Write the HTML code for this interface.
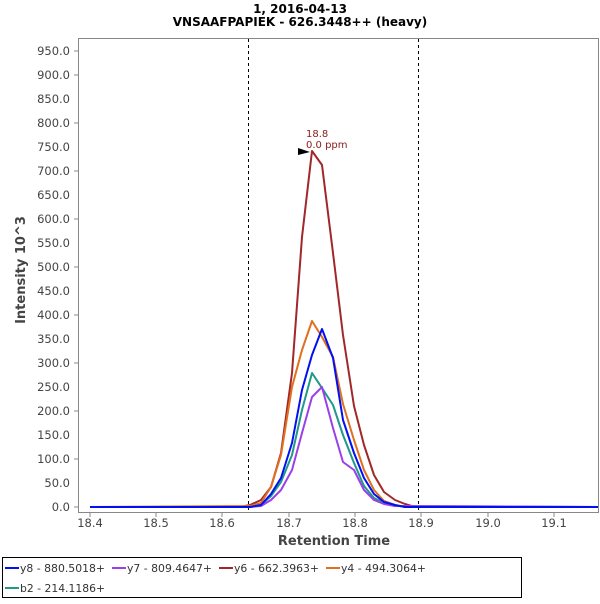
<!DOCTYPE html><html><head><style>body{margin:0;background:#fff;font-family:"DejaVu Sans","Liberation Sans",sans-serif}</style></head><body>
<svg width="600" height="600" xmlns="http://www.w3.org/2000/svg" font-family="DejaVu Sans, Liberation Sans, sans-serif">
<text x="300" y="13" font-size="12" font-weight="bold" text-anchor="middle" fill="#000">1, 2016-04-13</text>
<text x="300" y="26" font-size="12" font-weight="bold" text-anchor="middle" fill="#000">VNSAAFPAPIEK - 626.3448++ (heavy)</text>
<rect x="78.5" y="38.5" width="520" height="474" fill="#fff" stroke="#888"/>
<g stroke="#888">
<line x1="74" x2="78" y1="507" y2="507"/><line x1="74" x2="78" y1="459" y2="459"/><line x1="74" x2="78" y1="411" y2="411"/><line x1="74" x2="78" y1="363" y2="363"/><line x1="74" x2="78" y1="315" y2="315"/><line x1="74" x2="78" y1="267" y2="267"/><line x1="74" x2="78" y1="219" y2="219"/><line x1="74" x2="78" y1="171" y2="171"/><line x1="74" x2="78" y1="123" y2="123"/><line x1="74" x2="78" y1="75" y2="75"/><line x1="74" x2="78" y1="51" y2="51"/>
<line x1="90" x2="90" y1="513" y2="517"/><line x1="156" x2="156" y1="513" y2="517"/><line x1="222" x2="222" y1="513" y2="517"/><line x1="289" x2="289" y1="513" y2="517"/><line x1="355" x2="355" y1="513" y2="517"/><line x1="421" x2="421" y1="513" y2="517"/><line x1="488" x2="488" y1="513" y2="517"/><line x1="554" x2="554" y1="513" y2="517"/>
</g>
<g font-size="11.5" fill="#444" text-anchor="end">
<text x="70" y="55">950.0</text><text x="70" y="79">900.0</text><text x="70" y="103">850.0</text><text x="70" y="127">800.0</text><text x="70" y="151">750.0</text><text x="70" y="175">700.0</text><text x="70" y="199">650.0</text><text x="70" y="223">600.0</text><text x="70" y="247">550.0</text><text x="70" y="271">500.0</text><text x="70" y="295">450.0</text><text x="70" y="319">400.0</text><text x="70" y="343">350.0</text><text x="70" y="367">300.0</text><text x="70" y="391">250.0</text><text x="70" y="415">200.0</text><text x="70" y="439">150.0</text><text x="70" y="463">100.0</text><text x="70" y="487">50.0</text><text x="70" y="511">0.0</text>
</g>
<g font-size="11.5" fill="#444" text-anchor="middle">
<text x="90" y="527">18.4</text><text x="156" y="527">18.5</text><text x="222" y="527">18.6</text><text x="289" y="527">18.7</text><text x="355" y="527">18.8</text><text x="421" y="527">18.9</text><text x="488" y="527">19.0</text><text x="554" y="527">19.1</text>
</g>
<text x="334" y="545" font-size="13" font-weight="bold" fill="#444" text-anchor="middle">Retention Time</text>
<text transform="translate(25,270) rotate(-90)" font-size="13" font-weight="bold" fill="#444" text-anchor="middle">Intensity 10^3</text>
<line x1="248.5" x2="248.5" y1="39" y2="512" stroke="#000" stroke-dasharray="3,3"/>
<line x1="418.5" x2="418.5" y1="39" y2="512" stroke="#000" stroke-dasharray="3,3"/>
<g fill="none" stroke-width="2" stroke-linejoin="round">
<polyline stroke="#a02828" points="90,507 240,507 250,505 261,500 271,487 281,453 292,373 302,237 312,151 322,165 333,253 343,335 354,406 364,445 374,475 384,492 395,500 405,504 415,507 598,507"/>
<polyline stroke="#e07020" points="90,507 250,506 261,503 271,487 281,455 292,387 302,350 312,321 322,337 333,357 343,404 354,440 364,470 374,490 384,501 395,505 405,507 598,507"/>
<polyline stroke="#20988a" points="90,507 250,507 261,505 271,496 281,482 292,455 302,410 312,373 322,388 333,405 343,435 354,463 364,486 374,498 384,503 395,506 598,507"/>
<polyline stroke="#9a40e8" points="90,507 250,507 261,506 271,500 281,490 292,470 302,433 312,397 322,387 333,428 343,462 354,470 364,490 374,500 384,504 395,506 598,507"/>
<polyline stroke="#0010f0" points="90,507 250,507 261,505 271,494 281,478 292,443 302,390 312,355 322,329 333,358 343,420 354,453 364,478 374,494 384,502 395,505 405,507 598,507"/>
</g>
<polygon points="298,148 310,152 298,155" fill="#000"/>
<text x="306" y="137" font-size="10" fill="#8b1a1a">18.8</text>
<text x="306" y="148" font-size="10" fill="#8b1a1a">0.0 ppm</text>
<rect x="2.5" y="557.5" width="519" height="40" fill="none" stroke="#000"/>
<g font-size="11" fill="#333">
<line x1="5" x2="19" y1="568" y2="568" stroke="#0010f0" stroke-width="2"/><text x="20" y="572" textLength="85" lengthAdjust="spacingAndGlyphs">y8 - 880.5018+</text>
<line x1="112" x2="126" y1="568" y2="568" stroke="#9a40e8" stroke-width="2"/><text x="127" y="572" textLength="85" lengthAdjust="spacingAndGlyphs">y7 - 809.4647+</text>
<line x1="219" x2="233" y1="568" y2="568" stroke="#a02828" stroke-width="2"/><text x="234" y="572" textLength="85" lengthAdjust="spacingAndGlyphs">y6 - 662.3963+</text>
<line x1="326" x2="340" y1="568" y2="568" stroke="#e07020" stroke-width="2"/><text x="341" y="572" textLength="85" lengthAdjust="spacingAndGlyphs">y4 - 494.3064+</text>
<line x1="5" x2="19" y1="588" y2="588" stroke="#20988a" stroke-width="2"/><text x="20" y="592" textLength="85" lengthAdjust="spacingAndGlyphs">b2 - 214.1186+</text>
</g>
</svg></body></html>
